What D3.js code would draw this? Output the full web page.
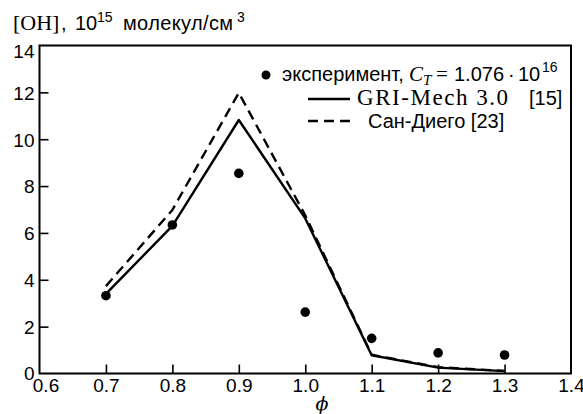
<!DOCTYPE html>
<html>
<head>
<meta charset="utf-8">
<script src="https://cdn.jsdelivr.net/npm/d3@7"></script>
<style>
  html, body { margin: 0; padding: 0; background: #fff; }
  svg { display: block; }
  text { fill: #000; }
</style>
</head>
<body>
<svg id="chart" width="583" height="414"></svg>
<script>
// Equivalence ratio values
const phi = [0.7, 0.8, 0.9, 1.0, 1.1, 1.2, 1.3];
// Measured OH concentration, 10^15 molecules/cm^3
const experiment = [3.32, 6.34, 8.54, 2.62, 1.50, 0.88, 0.79];
// GRI-Mech 3.0 model
const griMech = [3.40, 6.30, 10.82, 6.62, 0.78, 0.25, 0.10];
// San Diego mechanism
const sanDiego = [3.73, 6.98, 11.98, 6.75, 0.80, 0.27, 0.11];

const xTicks = [0.6, 0.7, 0.8, 0.9, 1.0, 1.1, 1.2, 1.3, 1.4];
const yTicks = [0, 2, 4, 6, 8, 10, 12, 14];

const svg = d3.select("#chart");
const plotL = 39.5, plotR = 571, plotT = 45.5, plotB = 373.5;

const x = d3.scaleLinear().domain([0.6, 1.4]).range([plotL, plotR]);
const y = d3.scaleLinear().domain([0, 14]).range([plotB, plotT]);

const sans = "'Liberation Sans', Arial, sans-serif";
const serif = "'DejaVu Serif', 'Liberation Serif', serif";
const roman = "'Liberation Serif', 'DejaVu Serif', serif";

// Axes with inward ticks
const xAxis = d3.axisBottom(x).tickValues(xTicks).tickSize(-9).tickPadding(5)
  .tickFormat(d3.format(".1f"));
const gx = svg.append("g").attr("transform", `translate(0,${plotB})`).call(xAxis);
gx.select(".domain").remove();
gx.selectAll(".tick line").attr("stroke", "#000").attr("stroke-width", 1.6);
gx.selectAll(".tick text").attr("font-family", sans).attr("font-size", 19)
  .attr("dy", "0.71em")
  .attr("dx", d => d === 0.6 ? 6 : 0);

const yAxis = d3.axisLeft(y).tickValues(yTicks).tickSize(-9).tickPadding(5);
const gy = svg.append("g").attr("transform", `translate(${plotL},0)`).call(yAxis);
gy.select(".domain").remove();
gy.selectAll(".tick line").attr("stroke", "#000").attr("stroke-width", 1.6);
gy.selectAll(".tick text").attr("font-family", sans).attr("font-size", 19)
  .attr("dy", d => d === 14 ? "0.62em" : (d === 0 ? "0.3em" : "0.36em"));
gy.selectAll(".tick").filter(d => d === 14 || d === 0).select("line").remove();
gx.selectAll(".tick").filter(d => d === 0.6 || d === 1.4).select("line").remove();

// Plot frame
svg.append("rect")
  .attr("x", plotL).attr("y", plotT)
  .attr("width", plotR - plotL).attr("height", plotB - plotT)
  .attr("fill", "none").attr("stroke", "#000").attr("stroke-width", 2);

const line = d3.line().x((d, i) => x(phi[i])).y(d => y(d));

svg.append("path").datum(sanDiego).attr("d", line)
  .attr("fill", "none").attr("stroke", "#000").attr("stroke-width", 2.4)
  .attr("stroke-dasharray", "10,6");

svg.append("path").datum(griMech).attr("d", line)
  .attr("fill", "none").attr("stroke", "#000").attr("stroke-width", 2.4)
  .attr("stroke-linejoin", "round");

svg.append("g").selectAll("circle").data(experiment).join("circle")
  .attr("cx", (d, i) => x(phi[i])).attr("cy", d => y(d)).attr("r", 4.8)
  .attr("fill", "#000");

// Text piece at a fixed start position
function piece(g, txt, x0, yb, opts) {
  const t = g.append("text").attr("x", x0).attr("y", yb)
    .attr("font-family", opts.family || sans)
    .attr("font-size", opts.size || 20)
    .text(txt);
  if (opts.italic) t.attr("font-style", "italic");
  if (opts.anchor) t.attr("text-anchor", opts.anchor);
  if (opts.span) t.attr("textLength", opts.span).attr("lengthAdjust", "spacing");
  return t;
}

// Y axis title
const yt = svg.append("g");
piece(yt, "[OH]", 13, 30, { family: roman, size: 22 });
piece(yt, ",", 61, 30, { size: 20 });
piece(yt, "10", 75, 30, { size: 20 });
piece(yt, "15", 97, 22, { size: 14 });
piece(yt, "молекул/см", 123, 30, { size: 20, span: 110 });
piece(yt, "3", 237, 22, { size: 14 });

// X axis title
svg.append("text").attr("x", 322).attr("y", 410).attr("text-anchor", "middle")
  .attr("font-family", serif).attr("font-style", "italic").attr("font-size", 19)
  .text("ϕ");

// Legend
const lg = svg.append("g");
lg.append("circle").attr("cx", 266).attr("cy", 75).attr("r", 4.5).attr("fill", "#000");
piece(lg, "эксперимент,", 282, 81, { size: 20 });
piece(lg, "C", 409, 81, { family: roman, size: 21, italic: true });
piece(lg, "T", 423, 85, { family: roman, size: 15, italic: true });
piece(lg, "=", 436, 81, { family: roman, size: 21 });
piece(lg, "1.076", 454, 81, { size: 20 });
piece(lg, "·", 508, 81, { size: 20 });
piece(lg, "10", 518, 81, { size: 20 });
piece(lg, "16", 542, 72, { size: 14 });

lg.append("line").attr("x1", 308).attr("x2", 350).attr("y1", 99).attr("y2", 99)
  .attr("stroke", "#000").attr("stroke-width", 2.4);
piece(lg, "GRI-Mech 3.0", 357, 105, { family: roman, size: 23, span: 151 });
piece(lg, "[15]", 529, 105, { size: 20 });

lg.append("line").attr("x1", 308).attr("x2", 350).attr("y1", 121).attr("y2", 121)
  .attr("stroke", "#000").attr("stroke-width", 2.4).attr("stroke-dasharray", "10,6");
piece(lg, "Сан-Диего [23]", 368, 128, { size: 20 });
</script>
</body>
</html>
